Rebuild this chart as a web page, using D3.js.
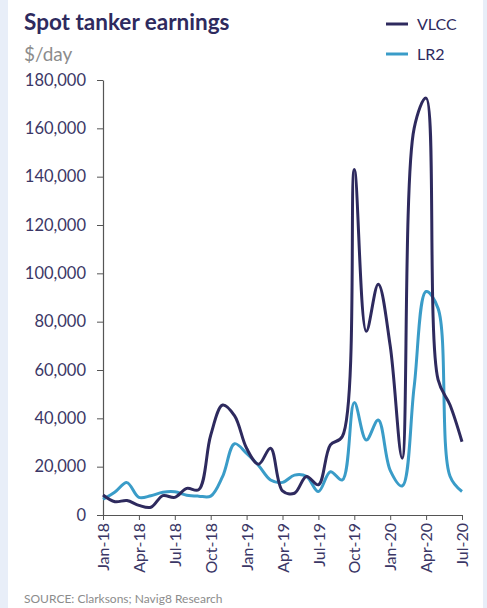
<!DOCTYPE html>
<html><head><meta charset="utf-8">
<script src="https://cdn.jsdelivr.net/npm/d3@7"></script>
<style>
html,body{margin:0;padding:0;background:#e8eef8;}
svg{display:block;}
</style></head>
<body>
<svg id="chart" width="487" height="608"></svg>
<script>
const months = ["Jan-18","Feb-18","Mar-18","Apr-18","May-18","Jun-18","Jul-18","Aug-18","Sep-18","Oct-18","Nov-18","Dec-18",
"Jan-19","Feb-19","Mar-19","Apr-19","May-19","Jun-19","Jul-19","Aug-19","Sep-19","Oct-19","Nov-19","Dec-19",
"Jan-20","Feb-20","Mar-20","Apr-20","May-20","Jun-20","Jul-20"];
const vlcc = [8300,5500,6000,4000,3200,8000,7300,11000,10500,33000,45500,41000,
27600,21000,27600,10000,9000,15900,12500,29000,32500,143000,76000,95500,
70000,23500,160000,172500,56000,45500,30300];
const lr2 = [6500,9500,13400,7300,8000,9400,9600,8200,7800,7800,16000,29500,
25500,20500,14500,13500,16500,16000,9700,17900,14500,46500,31000,39300,
18500,12000,53000,92500,85500,16000,9700];
const tickLabels = ["Jan-18","Apr-18","Jul-18","Oct-18","Jan-19","Apr-19","Jul-19","Oct-19","Jan-20","Apr-20","Jul-20"];
const yTicks = [0,20000,40000,60000,80000,100000,120000,140000,160000,180000];
const seriesNames = ["VLCC","LR2"];
const colors = {VLCC:"#2e2a5e", LR2:"#3a9cc8"};

const svg = d3.select("#chart");
svg.append("rect").attr("x",8).attr("y",0).attr("width",475).attr("height",608).attr("fill","#ffffff");

const font = "Lato, 'Open Sans', sans-serif";
const x = d3.scalePoint().domain(months).range([103,462]);
const y = d3.scaleLinear().domain([0,180000]).range([515,80]);

// title
svg.append("text").attr("x",24).attr("y",30).text("Spot tanker earnings")
  .attr("font-family",font).attr("font-weight","bold").attr("font-size",22.5).attr("fill","#2e2a5e");
svg.append("text").attr("x",24).attr("y",61).text("$/day")
  .attr("font-family",font).attr("font-size",19).attr("fill","#8c8c8c");

// legend
seriesNames.forEach((n,i)=>{
  const ly = 24 + i*30;
  svg.append("line").attr("x1",386).attr("x2",408).attr("y1",ly).attr("y2",ly)
    .attr("stroke",colors[n]).attr("stroke-width",3);
  svg.append("text").attr("x",417).attr("y",ly+6).text(n)
    .attr("font-family",font).attr("font-size",16).attr("fill","#2e2a5e");
});

// y axis
const yAxis = d3.axisLeft(y).tickValues(yTicks).tickSize(6).tickSizeOuter(0)
  .tickFormat(d3.format(","));
const gy = svg.append("g").attr("transform","translate(103,0)").call(yAxis);
gy.select(".domain").attr("stroke","#555").attr("stroke-width",1.2);
gy.selectAll(".tick line").attr("stroke","#555");
gy.selectAll(".tick text").attr("font-family",font).attr("font-size",16.5).attr("fill","#3b3766").attr("x",-17);

// x axis
const xAxis = d3.axisBottom(x).tickValues(tickLabels).tickSize(5).tickSizeOuter(0);
const gx = svg.append("g").attr("transform","translate(0,515)").call(xAxis);
gx.select(".domain").attr("stroke","#555").attr("stroke-width",1.2);
gx.selectAll(".tick line").attr("stroke","#555");
gx.selectAll(".tick text").attr("font-family",font).attr("font-size",16).attr("fill","#3b3766")
  .attr("transform","rotate(-90)").attr("text-anchor","end").attr("dy","0.35em").attr("x",-8).attr("y",0);

// lines
const line = d3.line().x((d,i)=>x(months[i])).y(d=>y(d)).curve(d3.curveCatmullRom.alpha(0.5));
svg.append("path").datum(lr2).attr("d",line).attr("fill","none")
  .attr("stroke",colors.LR2).attr("stroke-width",3);
svg.append("path").datum(vlcc).attr("d",line).attr("fill","none")
  .attr("stroke",colors.VLCC).attr("stroke-width",3);

// source
svg.append("text").attr("x",24).attr("y",603).text("SOURCE: Clarksons; Navig8 Research")
  .attr("font-family",font).attr("font-size",12).attr("fill","#8c8c8c");
</script>
</body></html>
